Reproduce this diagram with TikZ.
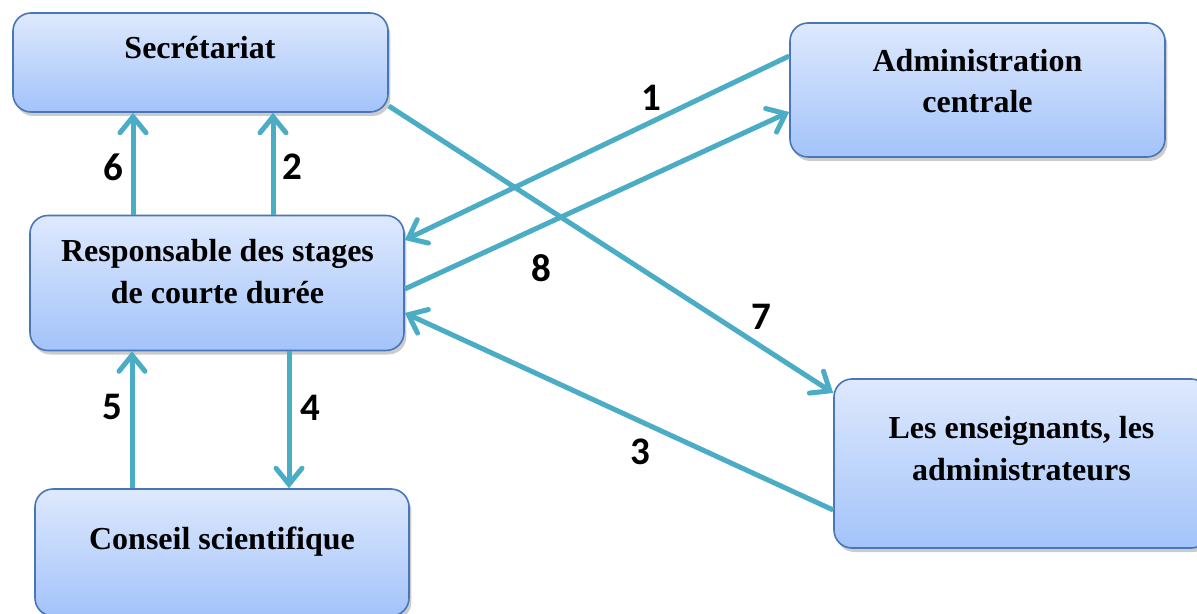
\documentclass[tikz,border=0pt]{standalone}
\usepackage{fontspec}
\setmainfont{Liberation Serif}
\newfontfamily\numfont{Carlito}
\usetikzlibrary{arrows.meta,shadows}
\definecolor{boxtop}{RGB}{222,233,253}
\definecolor{boxbot}{RGB}{163,195,250}
\definecolor{boxborder}{RGB}{72,118,182}
\definecolor{arrowc}{RGB}{75,172,198}
\tikzset{
  box/.style={rounded corners=9pt, draw=boxborder, line width=0.8pt,
    top color=boxtop, bottom color=boxbot,
    drop shadow={shadow xshift=1.2pt, shadow yshift=-2pt, opacity=0.2, fill=black}},
  txt/.style={font=\fontsize{16}{21}\selectfont\bfseries, inner sep=0pt, anchor=base},
  num/.style={font=\numfont\fontsize{19.5}{22}\selectfont\bfseries, inner sep=0pt},
  arr/.style={draw=arrowc, line width=2.5pt, -{Straight Barb[length=8pt,width=13pt,line cap=round]}}
}
\begin{document}
\begin{tikzpicture}[x=0.5pt,y=-0.5pt]
\useasboundingbox (0,0) rectangle (1197,614);
% boxes
\node[box, minimum width=187.5pt, minimum height=49.5pt] (sec) at (200.5,62.5) {};
\node[box, minimum width=187.5pt, minimum height=67pt] (adm) at (977.5,90) {};
\node[box, minimum width=187pt, minimum height=67.5pt] (resp) at (217,283) {};
\node[box, minimum width=187pt, minimum height=63.5pt] (cons) at (222,552.5) {};
\node[box, minimum width=187.5pt, minimum height=84.5pt] (ens) at (1021.5,463.5) {};
% texts
\node[txt] (secT) at (200,59) {Secrétariat};
\node[txt] (admT1) at (977.5,72) {Administration};
\node[txt] (admT2) at (977.5,113) {centrale};
\node[txt] (respT1) at (217.5,262) {Responsable des stages};
\node[txt] (respT2) at (217.5,303) {de courte durée};
\node[txt] (consT) at (222,549) {Conseil scientifique};
\node[txt] (ensT1) at (1021.5,438) {Les enseignants, les};
\node[txt] (ensT2) at (1021.5,480) {administrateurs};
% connectors
\draw[arr] ([xshift=-42pt]resp.north) -- ([xshift=-42pt]resp.north |- sec.south);
\draw[arr] ([xshift=28pt]resp.north) -- ([xshift=28pt]resp.north |- sec.south);
\draw[arr] ([xshift=-42.5pt]resp.south |- cons.north) -- ([xshift=-42.5pt]resp.south);
\draw[arr] ([xshift=36pt]resp.south) -- ([xshift=36pt]resp.south |- cons.north);
\draw[arr] ([yshift=17pt]adm.west) -- ([yshift=21.5pt]resp.east);
\draw[arr] ([yshift=-3pt]resp.east) -- ([yshift=-11pt]adm.west);
\draw[arr] ([yshift=-21.75pt]sec.east) -- ([yshift=35.25pt]ens.west);
\draw[arr] ([yshift=-23.25pt]ens.west) -- ([yshift=-15pt]resp.east);
% labels
\node[num] (n1) at (651,98) {1};
\node[num] (n2) at (292,167) {2};
\node[num] (n6) at (113,167) {6};
\node[num] (n8) at (541,268) {8};
\node[num] (n7) at (761,317) {7};
\node[num] (n5) at (112,407) {5};
\node[num] (n4) at (310,408) {4};
\node[num] (n3) at (640,452) {3};
\end{tikzpicture}
\end{document}
